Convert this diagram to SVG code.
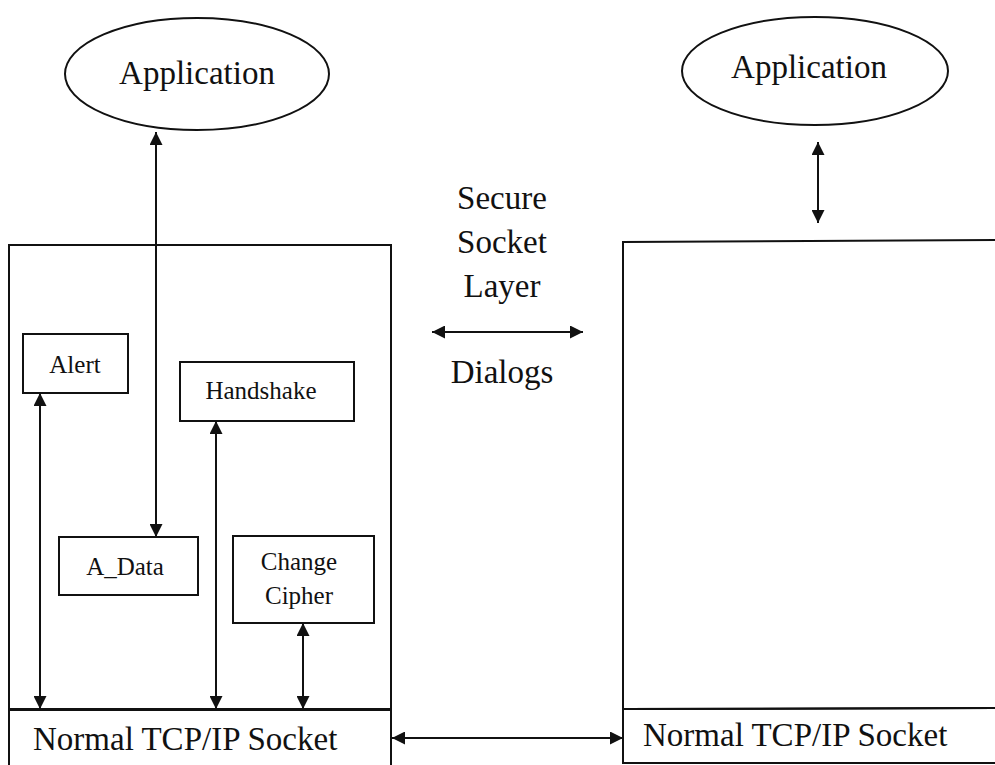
<svg xmlns="http://www.w3.org/2000/svg" width="995" height="765" viewBox="0 0 995 765">
<style>
.s{fill:none;stroke:#111;stroke-width:2}
.b{fill:#fff;stroke:#111;stroke-width:2}
.t{font-family:"Liberation Serif","Times New Roman",serif;fill:#111}
.big{font-size:33px}
.sm{font-size:25px}
.c{stroke:#111;stroke-width:2;fill:none;marker-start:url(#ah);marker-end:url(#ah)}
</style>
<defs>
<marker id="ah" viewBox="0 0 10 10" refX="10" refY="5" markerUnits="userSpaceOnUse" markerWidth="14" markerHeight="13" orient="auto-start-reverse">
<path d="M0,0 L10,5 L0,10 z" fill="#111"/>
</marker>
</defs>
<rect width="995" height="765" fill="#fff"/>
<g id="left-app">
<ellipse cx="197" cy="74" rx="132" ry="56" class="b"/>
<text x="197" y="84" class="t big" text-anchor="middle">Application</text>
</g>
<g id="right-app">
<ellipse cx="815" cy="71" rx="133" ry="54" class="b"/>
<text x="809" y="78" class="t big" text-anchor="middle">Application</text>
</g>
<g id="left-ssl">
<rect x="9" y="245" width="382" height="465" class="s"/>
</g>
<g id="right-ssl">
<polyline points="1000,240 623,242 623,709 1000,708" class="s"/>
</g>
<g id="left-tcp">
<rect x="9" y="709" width="382" height="60" class="s"/>
<text x="33" y="750" class="t big">Normal TCP/IP Socket</text>
</g>
<g id="right-tcp">
<polyline points="1000,708 623,709 623,763 1000,763" class="s"/>
<text x="643" y="746" class="t big">Normal TCP/IP Socket</text>
</g>
<g id="alert">
<rect x="23" y="334" width="105" height="59" class="b"/>
<text x="75" y="373" class="t sm" text-anchor="middle">Alert</text>
</g>
<g id="handshake">
<rect x="180" y="362" width="174" height="59" class="b"/>
<text x="261" y="399" class="t sm" text-anchor="middle">Handshake</text>
</g>
<g id="a-data">
<rect x="59" y="537" width="139" height="58" class="b"/>
<text x="125" y="575" class="t sm" text-anchor="middle">A_Data</text>
</g>
<g id="change-cipher">
<rect x="233" y="536" width="141" height="87" class="b"/>
<text x="299" y="570" class="t sm" text-anchor="middle">Change</text>
<text x="299" y="604" class="t sm" text-anchor="middle">Cipher</text>
</g>
<g id="ssl-label">
<text x="502" y="209" class="t big" text-anchor="middle">Secure</text>
<text x="502" y="253" class="t big" text-anchor="middle">Socket</text>
<text x="502" y="297" class="t big" text-anchor="middle">Layer</text>
<text x="502" y="383" class="t big" text-anchor="middle">Dialogs</text>
</g>
<g id="connectors">
<line x1="156" y1="132" x2="156" y2="537" class="c"/>
<line x1="818" y1="142" x2="818" y2="223" class="c"/>
<line x1="40" y1="393" x2="40" y2="709" class="c"/>
<line x1="216" y1="421" x2="216" y2="709" class="c"/>
<line x1="303" y1="623" x2="303" y2="709" class="c"/>
<line x1="432" y1="332" x2="583" y2="332" class="c"/>
<line x1="392" y1="738" x2="623" y2="738" class="c"/>
</g>
</svg>
